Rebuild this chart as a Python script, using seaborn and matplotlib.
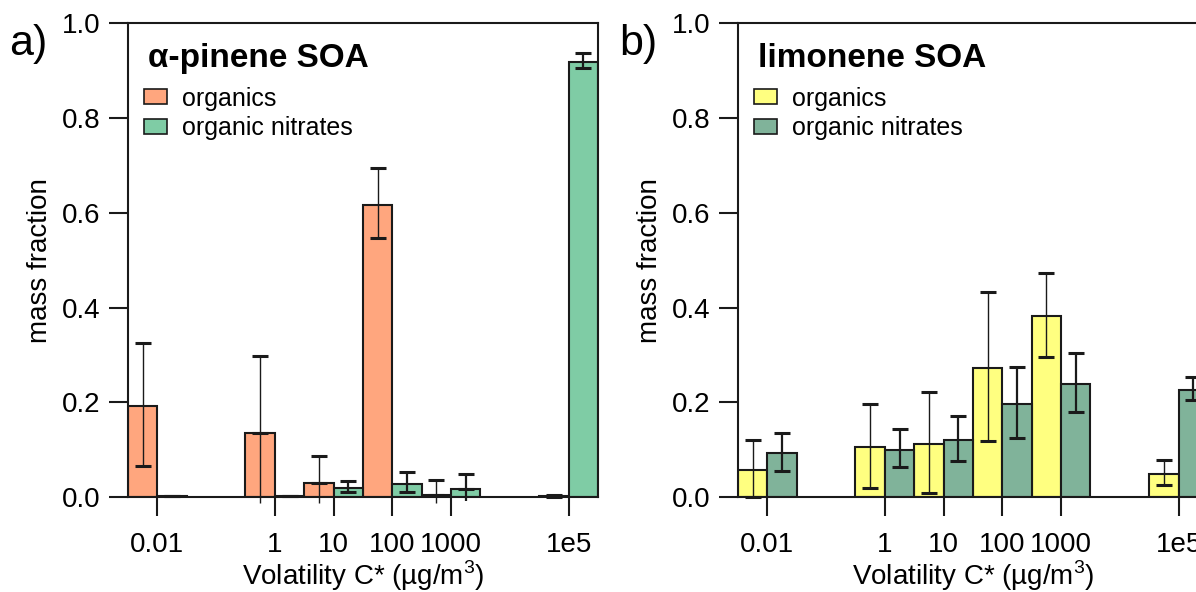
import numpy as np
import pandas as pd
import matplotlib.pyplot as plt
import seaborn as sns
from matplotlib.patches import Patch

# volatility bins, log10 C* (ug/m3)
log_cstar = [-2, 0, 1, 2, 3, 5]
tick_labels = ["0.01", "1", "10", "100", "1000", "1e5"]
kinds = ["organics", "organic nitrates"]

# alpha-pinene SOA
apin_org = [0.193, 0.135, 0.030, 0.617, 0.005, 0.003]
apin_org_lo = [0.065, -0.013, -0.013, 0.547, -0.013, 0.001]
apin_org_hi = [0.326, 0.297, 0.086, 0.694, 0.036, 0.005]
apin_nit = [0.002, 0.003, 0.020, 0.029, 0.018, 0.918]
apin_nit_lo = [0.002, 0.003, 0.012, 0.011, -0.007, 0.905]
apin_nit_hi = [0.002, 0.003, 0.034, 0.053, 0.049, 0.937]

# limonene SOA
lim_org = [0.058, 0.105, 0.112, 0.273, 0.382, 0.049]
lim_org_lo = [0.001, 0.019, 0.008, 0.119, 0.296, 0.026]
lim_org_hi = [0.121, 0.196, 0.222, 0.432, 0.473, 0.079]
lim_nit = [0.094, 0.100, 0.120, 0.196, 0.239, 0.227]
lim_nit_lo = [0.056, 0.063, 0.076, 0.124, 0.180, 0.206]
lim_nit_hi = [0.136, 0.143, 0.172, 0.275, 0.304, 0.254]

sns.set_style("white")
plt.rcParams["font.family"] = ["Liberation Sans", "DejaVu Sans"]
plt.rcParams["mathtext.fontset"] = "custom"
plt.rcParams["mathtext.rm"] = "Liberation Sans"
plt.rcParams["text.color"] = "black"
plt.rcParams["axes.labelcolor"] = "black"

fig = plt.figure(figsize=(11.96, 5.92), dpi=100)
ax_a = fig.add_axes([0.107, 0.16, 0.393, 0.801])
ax_b = fig.add_axes([0.617, 0.16, 0.393, 0.801])

panels = [
    (ax_a, "a)", "α-pinene SOA", ["#FFA67E", "#7FCCA5"],
     [(apin_org, apin_org_lo, apin_org_hi), (apin_nit, apin_nit_lo, apin_nit_hi)]),
    (ax_b, "b)", "limonene SOA", ["#FFFF80", "#80B39A"],
     [(lim_org, lim_org_lo, lim_org_hi), (lim_nit, lim_nit_lo, lim_nit_hi)]),
]

for ax, tag, title, colors, series in panels:
    df = pd.DataFrame({
        "logc": log_cstar * 2,
        "frac": series[0][0] + series[1][0],
        "kind": [kinds[0]] * len(log_cstar) + [kinds[1]] * len(log_cstar),
    })
    sns.barplot(data=df, x="logc", y="frac", hue="kind", hue_order=kinds,
                palette=colors, saturation=1, native_scale=True, width=1.0,
                dodge=True, errorbar=None, edgecolor="#1a1a1a", linewidth=1.5,
                legend=False, ax=ax)

    # error bars at the centre of each drawn bar; the ones dipping below zero
    # have no lower cap in the original
    bar_conts = list(ax.containers)
    for i, cont in enumerate(bar_conts):
        vals, lo, hi = (np.array(a) for a in series[i])
        xs = np.array([b.get_x() + b.get_width() / 2 for b in cont])
        lw = 1.0 if i == 0 else 1.6
        kw = dict(fmt="none", ecolor="#1a1a1a", elinewidth=lw, capthick=2.2,
                  clip_on=False, zorder=3)
        ax.errorbar(xs, vals, yerr=[np.where(lo < 0, 0, vals - lo), hi - vals],
                    capsize=6, **kw)
        neg = lo < 0
        if neg.any():
            ax.errorbar(xs[neg], vals[neg], yerr=[vals[neg] - lo[neg], np.zeros(neg.sum())],
                        capsize=0, **kw)

    ax.set_xlim(-2.5, 5.5)
    ax.set_ylim(0, 1.0)
    ax.set_xticks(log_cstar)
    ax.set_xticklabels(tick_labels)
    ax.set_yticks(np.arange(0, 1.01, 0.2))
    ax.set_yticklabels([f"{v:.1f}" for v in np.arange(0, 1.01, 0.2)])
    ax.tick_params(axis="x", direction="out", length=13.5, width=1.5, pad=11.5,
                   labelsize=20, bottom=True, colors="#1a1a1a", labelcolor="black")
    ax.tick_params(axis="y", direction="out", length=14, width=1.5, pad=6,
                   labelsize=20, left=True, colors="#1a1a1a", labelcolor="black")
    for s in ax.spines.values():
        s.set_visible(True)
        s.set_color("#1a1a1a")
        s.set_linewidth(1.5)
    ax.set_xlabel("Volatility C* (µg/m$^3$)", fontsize=20, labelpad=0.5)
    ax.set_ylabel("mass fraction", fontsize=20, labelpad=6)

    # bold panel title above the legend entries
    ax.text(0.042, 0.926, title, transform=ax.transAxes, fontsize=24,
            fontweight="bold", ha="left", va="center")
    handles = [Patch(facecolor=c, edgecolor="#1a1a1a", linewidth=1.2) for c in colors]
    ax.legend(handles, kinds, loc="upper left", bbox_to_anchor=(0.034, 0.866),
              frameon=False, fontsize=18, handlelength=0.92, handleheight=0.55,
              handletextpad=0.6, labelspacing=0.22, borderaxespad=0, borderpad=0)

    ax.text(-0.252, 0.998, tag, transform=ax.transAxes, fontsize=31,
            ha="left", va="top")

fig.savefig("out.png", dpi=100)
